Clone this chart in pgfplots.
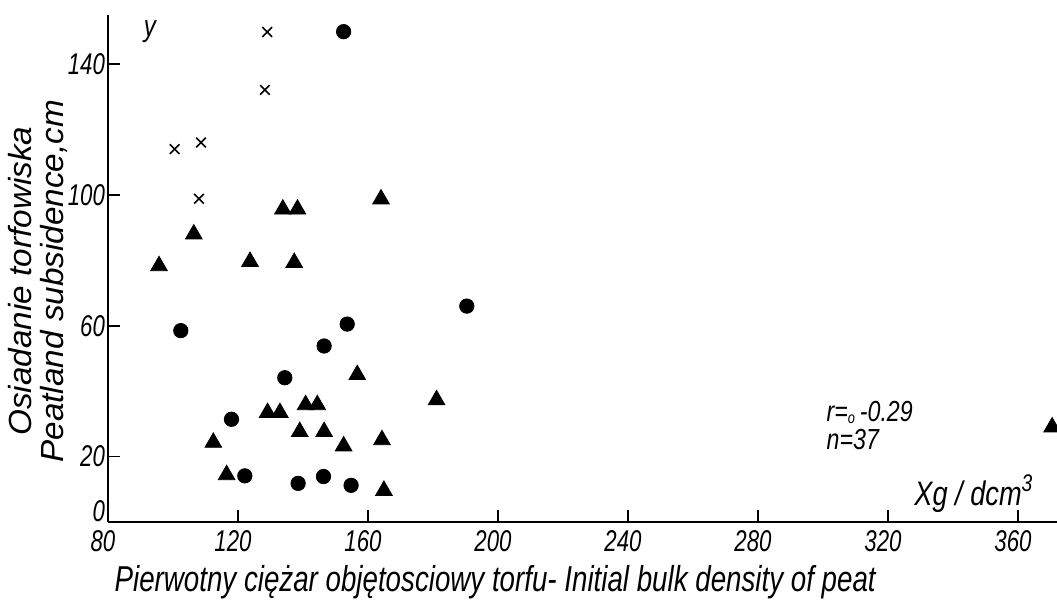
\documentclass[border=0pt]{standalone}
\usepackage{pgfplots}
\pgfplotsset{compat=1.18}
\usetikzlibrary{calc}
\usepackage{fontspec}
\setmainfont{Liberation Sans}[FakeStretch=0.8]
\newfontfamily\tkfont{Liberation Sans}[FakeStretch=0.74]
\newfontfamily\xlfont{Liberation Sans}[FakeStretch=0.77]
\newfontfamily\ylfont{Liberation Sans}[FakeStretch=1.04]

% scanned scatter: subsidence vs initial bulk density of peat
\pgfplotstableread{
x y
133.8 95.6
138.3 95.6
164.0 98.7
106.4 88.0
95.7 78.3
123.7 79.6
137.3 79.3
156.7 45.0
129.1 33.4
132.9 33.4
140.8 35.8
144.4 35.8
112.4 24.3
139.0 27.6
146.5 27.6
152.5 23.2
164.3 25.1
116.5 14.4
164.9 9.6
181.1 37.3
370.5 29.0
}\triangles

\pgfplotstableread{
x y
152.5 149.9
102.4 58.5
153.6 60.5
146.5 53.8
134.4 44.1
118.0 31.4
122.1 14.1
138.5 11.8
146.3 13.9
154.8 11.2
190.4 66.0
}\dots

\pgfplotstableread{
x y
129.0 149.8
128.3 132.1
100.5 114.0
108.6 116.0
108.0 98.8
}\crosses

\begin{document}
\begin{tikzpicture}
\begin{axis}[
    name=ax,
    scale only axis, width=474.5pt, height=253.5pt,
    xmin=80, xmax=372, ymin=0, ymax=155,
    axis x line=bottom, axis y line=left,
    axis line style={-, line width=1pt},
    tick align=inside, major tick length=6pt,
    tick style={black, line width=0.8pt},
    xtick={80,120,...,360}, ytick={20,60,100,140},
    extra y ticks={0}, extra y tick style={yticklabel style={yshift=5.5pt}},
    /pgf/number format/assume math mode=true,
    ticklabel style={font=\tkfont\itshape\fontsize{15}{15}\selectfont},
    xticklabel style={xshift=-2.5pt, yshift=-0.5pt},
    yticklabel style={xshift=2pt},
]
\addplot[only marks, mark=triangle*, mark size=4.8pt, black] table {\triangles};
\addplot[only marks, mark=*, mark size=3.6pt, black] table {\dots};
\addplot[only marks, mark=x, mark size=3.4pt, black, line width=0.8pt] table {\crosses};
\coordinate (ll) at (rel axis cs:0,0);
\coordinate (ur) at (rel axis cs:1,1);
\node[anchor=center, font=\itshape\fontsize{15}{15}\selectfont] at (axis cs:92.9,150) {y};
\node[anchor=north west, align=left, inner sep=0pt, font=\itshape\fontsize{14.5}{14}\selectfont] at (axis cs:301,37)
    {r=\raisebox{-0.1ex}{\fontsize{8}{8}\selectfont o}\,-0.29\\n=37};
\node[anchor=base west, inner sep=0pt, font=\itshape\fontsize{17}{17}\selectfont] at (axis cs:328,5)
    {Xg / dcm\raisebox{0.8ex}{\fontsize{12}{12}\selectfont 3}};
\end{axis}
\node[anchor=south, rotate=90, align=center, inner sep=0pt, font=\ylfont\itshape\fontsize{16}{16}\selectfont]
    at ([xshift=-20pt]$(ll)!0.475!(ll|-ur)$) {Osiadanie torfowiska\\Peatland subsidence,cm};
\node[anchor=base, inner sep=0pt, font=\xlfont\itshape\fontsize{18}{18}\selectfont]
    at ([yshift=-35pt]$(ll)!0.408!(ur|-ll)$) {Pierwotny ciężar objętosciowy torfu- Initial bulk density of peat};
\pgfresetboundingbox
\path[use as bounding box] ([shift={(-54pt,-43pt)}]ll) rectangle ([shift={(0pt,7.5pt)}]ur);
\end{tikzpicture}
\end{document}
